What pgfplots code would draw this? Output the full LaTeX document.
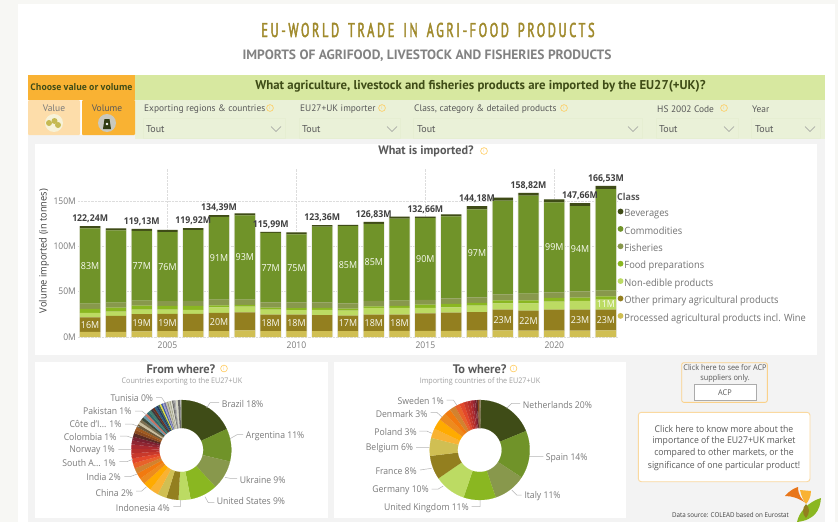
\documentclass[border=0pt]{standalone}
\usepackage{fontspec}
\usepackage{pgfplots}
\usepackage{pgfplotstable}
\pgfplotsset{compat=1.18}
\setmainfont[FakeStretch=0.93]{Open Sans}
\newfontfamily\din{PT Sans}
\newfontfamily\titlefont[FakeStretch=0.62,LetterSpace=13,WordSpace=1.5,FakeBold=2]{PT Sans}
\newcommand\fs[1]{\fontsize{#1}{#1}\selectfont}
\definecolor{gtxt}{HTML}{7A7A7A}
\definecolor{dtxt}{HTML}{595959}
\definecolor{lead}{HTML}{B4B4B4}
\definecolor{orng}{HTML}{F9B233}
\definecolor{infoc}{HTML}{FFCB5C}
\definecolor{cbev}{HTML}{3F4C17}
\definecolor{ccom}{HTML}{709329}
\definecolor{cfis}{HTML}{88984C}
\definecolor{cfoo}{HTML}{8AB721}
\definecolor{cnon}{HTML}{BCDB63}
\definecolor{coth}{HTML}{937F1F}
\definecolor{cpro}{HTML}{D0BF53}
\definecolor{pagebg}{HTML}{F3F3F3}
\definecolor{strip}{HTML}{F7F7F4}
\definecolor{hdrg}{HTML}{D7E8A0}
\definecolor{paleg}{HTML}{EAF1D8}
\definecolor{slb}{HTML}{E6EED2}
\definecolor{valtab}{HTML}{FDDDAA}
\definecolor{ttl}{HTML}{A08A2C}
\definecolor{sub}{HTML}{828282}
\definecolor{boxb}{HTML}{FAD9A0}
\definecolor{icA}{HTML}{F7F2D8}
\definecolor{icB}{HTML}{C9C9C0}
\definecolor{gridc}{HTML}{DDDDDD}
\definecolor{outl}{HTML}{E9E9E1}
\definecolor{tdark}{HTML}{404040}
\definecolor{btn}{HTML}{ABABAB}
\definecolor{lgA}{HTML}{E8761A}
\pgfplotsset{dotleg/.style={legend image code/.code={\fill[##1] (0pt,2.9pt) circle (2.9pt);}}}
\newcommand\info[2]{\draw[infoc,line width=.6pt] (#1,#2) circle (3.4pt);
  \node[inner sep=0,text=infoc,font=\fs{5}] at (#1,#2) {i};}
\newcommand\chev[2]{\draw[gray!80,line width=.5pt] (#1-5,#2-2.5) -- (#1,#2+2.5) -- (#1+5,#2-2.5);}
\newcommand\slicer[5]{%
  \draw[slb,line width=.5pt] (#1,118) rectangle (#2,138);
  \node[anchor=west,inner sep=0,font=\din\fs{9.4},text=dtxt] at (#1+1,109) {#3};
  \node[anchor=west,inner sep=0,font=\din\fs{10},text=dtxt] at (#4,129) {Tout};
  \chev{#5}{129}}
\newcommand\labr[3]{\node[anchor=west,inner sep=0,font=\fs{9.3},text=gtxt] at (#1,#2) {#3};}
\newcommand\labl[3]{\node[anchor=east,inner sep=0,font=\fs{9.3},text=gtxt] at (#1,#2) {#3};}
\newcommand{\donut}[1]{%
  \gdef\acc{0}%
  \foreach \val/\col in {#1}{%
    \xglobal\definecolor{c\col}{HTML}{\col}%
    \pgfmathsetmacro\sa{\acc}%
    \pgfmathsetmacro\ea{\acc+\val*3.6}%
    \xdef\acc{\ea}%
    \pgfmathtruncatemacro\nst{max(1,ceil((\ea-\sa)/4))}%
    \gdef\pts{}%
    \foreach \idx in {0,...,\nst}{%
      \pgfmathsetmacro\ang{\sa+(\ea-\sa)*\idx/\nst}%
      \pgfmathsetmacro\qx{50*sin(\ang)}\pgfmathsetmacro\qy{50*cos(\ang)}%
      \xdef\pts{\pts (\qx,\qy)}}%
    \foreach \idx in {\nst,...,0}{%
      \pgfmathsetmacro\ang{\sa+(\ea-\sa)*\idx/\nst}%
      \pgfmathsetmacro\qx{22*sin(\ang)}\pgfmathsetmacro\qy{22*cos(\ang)}%
      \xdef\pts{\pts (\qx,\qy)}}%
    \edef\tmp{\noexpand\addplot[fill=c\col,draw=c\col,line width=.1pt,forget plot] coordinates {\pts};}\tmp
  }}
\pgfplotsset{donutaxis/.style={hide axis,scale only axis,width=110pt,height=110pt,
  xmin=-55,xmax=55,ymin=-55,ymax=55,clip=false},
  baraxis/.style={scale only axis,width=540pt,height=169pt,at={(78pt,-337pt)},anchor=south west,
  xmin=2001.53,xmax=2022.47,ymin=0,ymax=186.3}}
\pgfplotstableread{
year proc other nonedible food fish comm bev total
2002 5.6 16.0 4.9 4.6 5.6 83.0 2.54 122.24
2003 5.6 17.6 4.8 4.4 5.5 79.7 2.2 119.8
2004 6.2 19.0 4.9 4.5 5.4 77.0 2.13 119.13
2005 6.4 19.0 4.8 4.2 5.2 76.0 2.4 118.0
2006 6.5 18.9 4.4 4.4 5.5 78.0 2.22 119.92
2007 6.6 20.0 6.0 2.4 6.3 91.0 2.09 134.39
2008 7.4 19.8 6.3 1.8 5.9 93.0 2.2 136.4
2009 6.6 18.0 5.5 2.3 5.8 76.5 1.29 115.99
2010 6.6 18.0 5.0 2.2 6.4 75.0 2.2 115.4
2011 6.5 17.5 6.0 2.2 6.0 83.6 1.56 123.36
2012 6.6 17.0 5.4 2.2 5.9 85.0 1.4 123.5
2013 6.6 18.0 7.4 1.8 5.9 85.0 2.13 126.83
2014 6.8 18.0 7.2 2.2 5.8 90.5 2.2 132.7
2015 6.8 19.2 6.0 3.7 5.3 90.0 1.66 132.66
2016 6.8 20.0 5.9 3.7 6.2 90.5 2.2 135.3
2017 7.0 20.5 7.1 2.9 6.3 97.0 3.38 144.18
2018 7.3 23.0 6.8 3.3 6.6 103.4 3.3 153.7
2019 7.0 22.0 8.1 3.3 7.4 108.1 2.92 158.82
2020 7.0 23.1 8.9 4.0 6.3 99.0 3.5 151.8
2021 7.1 23.0 9.6 3.7 7.0 94.0 3.26 147.66
2022 7.3 23.0 11.0 3.6 6.2 111.8 3.63 166.53
}\bars
\begin{document}
\begin{tikzpicture}
\begin{scope}[x=1pt,y=-1pt]
\useasboundingbox (0,0) rectangle (838,522);
\fill[strip] (0,0) rectangle (838,522);
\fill[white] (18,4) rectangle (835,522);
\fill[pagebg] (28,135) rectangle (825,522);
% titles
\node[inner sep=0,font=\titlefont\fs{20},text=ttl] at (428,30) {EU-WORLD TRADE IN AGRI-FOOD PRODUCTS};
\node[inner sep=0,font=\din\bfseries\fs{13.5},text=sub] at (427,56) {IMPORTS OF AGRIFOOD, LIVESTOCK AND FISHERIES PRODUCTS};
% header
\fill[orng] (28,75) rectangle (135,100);
\fill[hdrg] (135,75) rectangle (825,100);
\fill[paleg] (135,100) rectangle (825,139);
\node[inner sep=0,font=\bfseries\fs{9.2},text=cbev] at (81.5,87) {Choose value or volume};
\node[inner sep=0,font=\din\bfseries\fs{12.8},text=cbev] at (480.5,86.5) {What agriculture, livestock and fisheries products are imported by the EU27(+UK)?};
\fill[valtab,rounded corners=1pt] (28,100) rectangle (80,135);
\fill[orng,rounded corners=1pt] (82,100) rectangle (135,135);
\node[inner sep=0,font=\din\fs{9.5},text=gtxt] at (54,108) {Value};
\node[inner sep=0,font=\din\fs{9.5},text=dtxt] at (107,108) {Volume};
\fill[icA] (54,123) circle (9pt);
\fill[cpro!85!cfis] (49,123) circle (3pt);
\fill[cpro!85!cfis] (54.5,121) circle (3pt);
\fill[cpro!85!cfis] (58,125) circle (3pt);
\fill[icB] (107,123) circle (9pt);
\fill[cbev!80!black] (103,129) -- (104.5,119) -- (109.5,119) -- (111,129) -- cycle;
\fill[white] (107,124) circle (1.3pt);
\slicer{143}{285}{Exporting regions \& countries}{146}{276}
\slicer{299}{400}{EU27+UK importer}{302}{392}
\slicer{413}{642}{Class, category \& detailed products}{417}{633}
\slicer{656}{738}{HS 2002 Code}{659}{729}
\slicer{751}{820}{Year}{755}{810}
\info{270}{108}\info{382}{108}\info{564}{108}\info{724}{108}
% panels
\fill[white] (35,144) rectangle (817,355);
\fill[white] (35,362) rectangle (328,518);
\fill[white] (334,362) rectangle (626,518);
\end{scope}

% outline behind the bars, with grid and ticks
\begin{axis}[baraxis,ybar,bar width=21.8pt,
  axis line style={draw=none},major tick length=0pt,
  grid=major,major grid style={densely dotted,gridc,line width=.5pt},
  xtick={2005,2010,2015,2020},xticklabels={2005,2010,2015,2020},
  ytick={0,50,100,150},yticklabels={0M,50M,100M,150M},
  xticklabel style={font=\fs{9.2},text=gtxt,yshift=-1pt},
  yticklabel style={font=\fs{9.2},text=gtxt,xshift=1.5pt}]
\addplot[fill=outl,draw=none] table[x=year,y=total]{\bars};
\end{axis}

% stacked bars and legend
\begin{axis}[baraxis,hide axis,ybar stacked,bar width=20.3pt,reverse legend,
  legend style={at={(0.999,0.761)},anchor=north west,draw=none,fill=none,inner sep=0pt,
    font=\fs{10},text=dtxt!85!white,row sep=6.85pt,/tikz/every even column/.append style={column sep=1.5pt},
    nodes={text height=7pt,text depth=2.5pt,inner ysep=0pt,inner xsep=1pt}},
  legend cell align=left]
\addplot[fill=cpro,draw=none,dotleg] table[x=year,y=proc]{\bars};
\addlegendentry{Processed agricultural products incl. Wine}
\addplot[fill=coth,draw=none,dotleg] table[x=year,y=other]{\bars};
\addlegendentry{Other primary agricultural products}
\addplot[fill=cnon,draw=none,dotleg] table[x=year,y=nonedible]{\bars};
\addlegendentry{Non-edible products}
\addplot[fill=cfoo,draw=none,dotleg] table[x=year,y=food]{\bars};
\addlegendentry{Food preparations}
\addplot[fill=cfis,draw=none,dotleg] table[x=year,y=fish]{\bars};
\addlegendentry{Fisheries}
\addplot[fill=ccom,draw=none,dotleg] table[x=year,y=comm]{\bars};
\addlegendentry{Commodities}
\addplot[fill=cbev,draw=none,dotleg] table[x=year,y=bev]{\bars};
\addlegendentry{Beverages}
\end{axis}

% data labels
\begin{axis}[baraxis,hide axis,clip=false,point meta=explicit symbolic,
  nodes near coords style={font=\fs{9.6},text=white!92!cnon,inner sep=0pt,anchor=center}]
\addplot[only marks,mark=none,nodes near coords] table[x=x,y=y,meta=l]{
x y l
2002 78.2 83M
2004 78.5 77M
2005 77.6 76M
2007 86.8 91M
2008 87.9 93M
2009 76.5 77M
2010 75.7 75M
2012 79.6 85M
2013 82.2 85M
2015 86 90M
2017 92.3 97M
2020 98.8 99M
2021 97.4 94M
2002 13.6 16M
2004 15.7 19M
2005 15.9 19M
2007 16.6 20M
2009 15.6 18M
2010 15.6 18M
2012 15.1 17M
2013 15.6 18M
2014 15.8 18M
2018 18.8 23M
2019 18 22M
2021 18.6 23M
2022 18.8 23M
2022 35.8 11M
};
\addplot[only marks,mark=none,nodes near coords,
  nodes near coords style={font=\bfseries\fs{9.4},text=tdark,anchor=south,inner sep=0pt,yshift=3pt}]
  table[x=x,y=y,meta=l]{
x y l
2002 122.24 122,24M
2004 119.13 119,13M
2006 119.92 119,92M
2007 134.39 134,39M
2009 115.99 115,99M
2011 123.36 123,36M
2013 126.83 126,83M
2015 132.66 132,66M
2017 144.18 144,18M
2019 158.82 158,82M
2021 147.66 147,66M
2022 166.53 166,53M
};
\end{axis}

% From where
\begin{axis}[donutaxis,at={(126.3pt,-505pt)},anchor=south west]
\donut{18.1/3F4C17,10.6/709329,9.4/88984C,8.9/8AB721,3.9/BCDB63,3.9/937F1F,3.0/D0BF53,2.8/F9B233,2.7/FFAB00,
2.0/ED8B1E,1.9/F27A0F,1.8/D2822F,1.7/E8622A,1.6/E2482B,1.6/C8392B,1.5/B72F2A,1.4/A92A30,1.3/8F2632,1.2/7A2030,1.2/5A2A24,
1.1/8B4A1E,1.0/A05A20,1.0/6E5A3A,0.9/C9BFA0,0.9/7A6E50,0.9/3D4A3A,0.9/6A9AA8,0.8/C87060,0.8/2E6A70,0.8/3F7F6F,
0.7/3A3A40,0.7/6A3020,0.7/2F6080,0.6/1F3A6A,0.6/4A6A50,0.5/E8E040,0.5/3F5FA0,0.5/A0A0D0,0.5/6E6E9E,0.5/C0C0B0,
0.4/9A9A7A,0.4/CFCFC0,0.4/A8A890,0.4/E0E0D0,0.4/707070,0.4/8A8A8A,0.4/B0B0B0,0.7/D8D8C8,0.8/6A6A6A}
\end{axis}

% To where
\begin{axis}[donutaxis,at={(424.7pt,-505pt)},anchor=south west]
\donut{18.8/3F4C17,15.4/709329,10.6/88984C,10.4/8AB721,10.2/BCDB63,7.7/937F1F,5.8/D0BF53,3.1/F9B233,3.4/FFAB00,2.5/ED8B1E,2.0/F27A0F,1.9/D2822F,
1.6/E8622A,1.4/E2482B,1.2/C8392B,1.0/B72F2A,0.8/A92A30,0.7/8F2632,0.5/7A2030,0.4/5A2A24,0.3/8B4A1E,0.2/A05A20,0.2/6E5A3A,0.2/C9BFA0,0.1/7A6E50}
\end{axis}

\begin{scope}[x=1pt,y=-1pt]
% bar chart texts
\node[inner sep=0,font=\din\bfseries\fs{12.2},text=dtxt] at (426,151.5) {What is imported?};
\info{484}{151}
\node[inner sep=0,rotate=90,font=\fs{10},text=tdark] at (44,251) {Volume imported (in tonnes)};
\node[anchor=west,inner sep=0,font=\bfseries\fs{9.6},text=dtxt] at (617,197) {Class};
% from where
\node[inner sep=0,font=\din\bfseries\fs{12.4},text=dtxt] at (181,369) {From where?};
\info{224}{368.5}
\node[inner sep=0,font=\fs{7.7},text=gray!75] at (182,381) {Countries exporting to the EU27+UK};
\draw[lead,line width=.5pt] (206.7,408)--(210,402.7)--(219,402.7)
 (230,438.7)--(237,434.7)--(243,434.7) (225,477.3)--(230,478.3)--(237,478.3)
 (205,496.7)--(208.3,502.7)--(214.3,502.7) (180.3,500)--(180.3,506.7)--(173.3,506.7)
 (146.7,486.7)--(141.7,491)--(136,491) (137.3,474)--(130,476.7)--(124.3,476.7)
 (132.7,459.3)--(126.7,461.7)--(119.3,461.7) (131.7,449.3)--(118.3,449.3)
 (133.3,438.3)--(126.7,436)--(120,436) (139.3,426.7)--(131.7,424)--(125,424)
 (146.7,415)--(141.7,411)--(135,411) (165,402.7)--(161.7,397.7)--(156,397.7);
\labr{221.7}{404}{Brazil 18\%}
\labr{245.7}{436.3}{Argentina 11\%}
\labr{239.7}{480.3}{Ukraine 9\%}
\labr{216.7}{501.3}{United States 9\%}
\labl{170}{507.7}{Indonesia 4\%}
\labl{133.3}{492.7}{China 2\%}
\labl{121}{476.7}{India 2\%}
\labl{116}{462.7}{South A... 1\%}
\labl{115}{450.7}{Norway 1\%}
\labl{116.7}{437}{Colombia 1\%}
\labl{121.7}{424}{Côte d'I... 1\%}
\labl{131.7}{411}{Pakistan 1\%}
\labl{153.3}{398.3}{Tunisia 0\%}
% to where
\node[inner sep=0,font=\din\bfseries\fs{12.4},text=dtxt] at (479.7,369) {To where?};
\info{513.5}{368.5}
\node[inner sep=0,font=\fs{7.7},text=gray!75] at (480,381) {Importing countries of the EU27+UK};
\draw[lead,line width=.5pt] (506.7,408.3)--(511.7,403.3)--(520,403.3)
 (529.3,456.7)--(543.3,456.7) (511.7,490)--(516.7,495)--(521.7,495)
 (480,500)--(480,506.7)--(471.7,506.7) (443.3,486)--(438.3,489)--(431.7,489)
 (431.7,468.3)--(420,470) (429.3,447.7)--(416,447.7)
 (431.7,433.3)--(426.7,431)--(419.3,431) (441.7,416.7)--(436.7,412.3)--(430.7,412.3)
 (456.7,405)--(453.3,400)--(446.7,400);
\labr{522.7}{405.3}{Netherlands 20\%}
\labr{545.7}{458}{Spain 14\%}
\labr{524.3}{496}{Italy 11\%}
\labl{469}{507.7}{United Kingdom 11\%}
\labl{429}{490}{Germany 10\%}
\labl{417}{471.3}{France 8\%}
\labl{413.3}{447.7}{Belgium 6\%}
\labl{417}{432}{Poland 3\%}
\labl{427.7}{413.7}{Denmark 3\%}
\labl{444}{401.3}{Sweden 1\%}
% right boxes
\draw[boxb!80!orng,line width=.9pt,rounded corners=2pt] (681.7,362.7) rectangle (767.3,402.3);
\node[inner sep=0,font=\fs{7.9},text=dtxt] at (725,368) {Click here to see for ACP};
\node[inner sep=0,font=\fs{7.9},text=dtxt] at (725,378) {suppliers only.};
\draw[btn,fill=white,line width=1pt] (694,384.3) rectangle (756.5,400.5);
\node[inner sep=0,font=\fs{7.9},text=dtxt] at (725,392.5) {ACP};
\draw[boxb,fill=white,line width=.9pt,rounded corners=3pt] (638.3,412.3) rectangle (810,481.7);
\node[inner sep=0,font=\fs{9.3},text=dtxt] at (724,428.7) {Click here to know more about the};
\node[inner sep=0,font=\fs{9.3},text=dtxt] at (724,441) {importance of the EU27+UK market};
\node[inner sep=0,font=\fs{9.3},text=dtxt] at (724,453.5) {compared to other markets, or the};
\node[inner sep=0,font=\fs{9.3},text=dtxt] at (724,466) {significance of one particular product!};
\node[inner sep=0,font=\fs{6.7},text=tdark] at (730.5,515) {Data source: COLEAD based on Eurostat};
% logo
\fill[lgA] (785,496) .. controls (790,490) and (795,488) .. (798,487) .. controls (798,495) and (802,500) .. (806,503) .. controls (798,498) and (792,496) .. (785,496) -- cycle;
\fill[orng] (800,490) -- (811,491) .. controls (811,497) and (808,502) .. (806,504) .. controls (803,500) and (801,495) .. (800,490) -- cycle;
\fill[cfoo] (821,498) .. controls (820,510) and (815,520) .. (797,522) .. controls (799,512) and (808,502) .. (821,498) -- cycle;
\fill[coth] (806,504) .. controls (810,508) and (810,513) .. (806,518) .. controls (802,514) and (802,508) .. (806,504) -- cycle;
\end{scope}
\end{tikzpicture}
\end{document}
